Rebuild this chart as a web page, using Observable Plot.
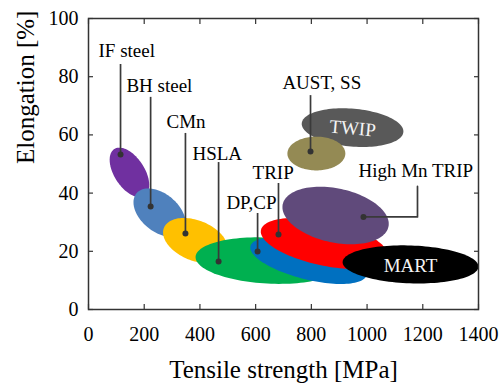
<!DOCTYPE html>
<html><head><meta charset="utf-8">
<script src="https://cdn.jsdelivr.net/npm/d3@7"></script>
<script src="https://cdn.jsdelivr.net/npm/@observablehq/plot@0.6"></script>
<style>body{margin:0;background:#fff} svg text{font-family:"Liberation Serif",serif !important;}</style>
</head><body><div id="chart"></div>
<script>
// Axis ticks
const xTicks = [0, 200, 400, 600, 800, 1000, 1200, 1400];
const yTicks = [0, 20, 40, 60, 80, 100];

// Ellipse regions (drawing order), centre in MPa / %, semi-axes in MPa / %, tilt in degrees
const ellName  = ["IF steel", "BH steel", "CMn", "HSLA", "DP,CP", "TRIP", "High Mn TRIP", "MART", "TWIP", "AUST, SS"];
const ellX     = [147, 255, 384, 646, 790, 847, 887, 1156, 948, 818];
const ellY     = [47.1, 33.3, 23.7, 16.8, 16.8, 22.7, 32.3, 15.5, 62.5, 53.6];
const ellRx    = [100, 108, 122, 262, 215, 233, 194, 244, 183, 104];
const ellRy    = [5.2, 6.5, 6.9, 7.9, 6.5, 7.6, 9.3, 6.5, 6.5, 5.8];
const ellTilt  = [57, 40, 22, 3, 14, 12, 12, 2, 5, 0];
const ellColor = ["#7030A0", "#4F81BD", "#FFC000", "#00B050", "#0070C0", "#FF0000", "#604A7B", "#000000", "#595959", "#948A54"];

// Callout labels
const labName = ["IF steel", "BH steel", "CMn", "HSLA", "DP,CP", "TRIP", "AUST, SS", "High Mn TRIP"];
const labX    = [36, 136, 280, 373, 495, 589, 696, 969];
const labY    = [86.9, 74.6, 62.5, 51.5, 34.7, 45.0, 75.9, 45.4];
const dotX    = [115, 223, 348, 467, 607, 682, 797, 987];
const dotY    = [53.3, 35.4, 26.1, 16.5, 19.9, 25.8, 54.3, 31.8];
const lineTop = [84.2, 72.9, 60.5, 50.5, 33.0, 43.3, 73.5, 42.3];
const elbowX  = 1181; // High Mn TRIP leader elbow

// Labels inside ellipses
const inName = ["MART", "TWIP"];
const inX = [1156, 948];
const inY = [15.1, 62.2];
const inRot = [0, 5];

const FONT = "Liberation Serif";
const W = 500, H = 385, mL = 88, mR = 22, mT = 18, mB = 76;
const kx = (W - mL - mR) / (xTicks[xTicks.length - 1] - xTicks[0]);
const ky = (H - mT - mB) / (yTicks[yTicks.length - 1] - yTicks[0]);

function ellipsePts(i) {
  const a = ellRx[i] * kx, b = ellRy[i] * ky, th = ellTilt[i] * Math.PI / 180;
  const out = [];
  const N = 120;
  for (let j = 0; j < N; j++) {
    const t = 2 * Math.PI * j / N;
    const px = a * Math.cos(t), py = b * Math.sin(t);
    const X = px * Math.cos(th) - py * Math.sin(th);
    const Y = px * Math.sin(th) + py * Math.cos(th);
    out.push({x: ellX[i] + X / kx, y: ellY[i] - Y / ky});
  }
  return out;
}

const idx = labName.map((d, i) => i);
const vIdx = idx.filter(i => labName[i] !== "High Mn TRIP");
const hm = labName.indexOf("High Mn TRIP");
const hmPath = [
  {x: dotX[hm], y: dotY[hm]},
  {x: elbowX, y: dotY[hm]},
  {x: elbowX, y: lineTop[hm]}
];

const axisStroke = "#333";

const chart = Plot.plot({
  width: W, height: H,
  marginLeft: mL, marginRight: mR, marginTop: mT, marginBottom: mB,
  style: {fontFamily: FONT, background: "#fff", color: "#000"},
  x: {domain: [0, 1400]},
  y: {domain: [0, 100]},
  marks: [
    ...ellName.map((n, i) => Plot.line(ellipsePts(i), {x: "x", y: "y", fill: ellColor[i], stroke: "none", curve: "linear-closed"})),
    Plot.ruleX(vIdx, {x: i => dotX[i], y1: i => dotY[i], y2: i => lineTop[i], stroke: "#3a3a3a", strokeWidth: 1.7}),
    Plot.line(hmPath, {x: "x", y: "y", stroke: "#3a3a3a", strokeWidth: 1.7}),
    Plot.dot(idx, {x: i => dotX[i], y: i => dotY[i], r: 3, fill: "#333", stroke: "none"}),
    Plot.text(idx, {x: i => labX[i], y: i => labY[i], text: i => labName[i], textAnchor: "start", lineAnchor: "bottom", fontSize: 19, fontFamily: FONT, fill: "#000"}),
    Plot.text(inName.map((d, i) => i), {x: i => inX[i], y: i => inY[i], text: i => inName[i], rotate: i => inRot[i], fontSize: 19, fontFamily: FONT, fill: "#f4f4f4", lineAnchor: "middle"}),
    Plot.frame({stroke: axisStroke, strokeWidth: 1.5}),
    Plot.axisX({ticks: xTicks, tickSize: -5, tickPadding: 22, tickFormat: d => String(d), fontSize: 20, fontFamily: FONT, stroke: axisStroke, strokeWidth: 1.2, fill: "#000", label: null}),
    Plot.axisX({ticks: xTicks, anchor: "top", tickSize: -5, tickFormat: () => "", stroke: axisStroke, strokeWidth: 1.2, label: null}),
    Plot.axisY({ticks: yTicks, tickSize: -5, tickPadding: 15, tickFormat: d => String(d), fontSize: 20, fontFamily: FONT, stroke: axisStroke, strokeWidth: 1.2, fill: "#000", label: null}),
    Plot.axisY({ticks: yTicks, anchor: "right", tickSize: -5, tickFormat: () => "", stroke: axisStroke, strokeWidth: 1.2, label: null}),
    Plot.text(["Tensile strength [MPa]"], {frameAnchor: "bottom", dy: 68, lineAnchor: "bottom", fontSize: 25, fontFamily: FONT, fill: "#000"}),
    Plot.text(["Elongation [%]"], {frameAnchor: "left", dx: -55, rotate: -90, lineAnchor: "bottom", fontSize: 25, fontFamily: FONT, fill: "#000"})
  ]
});
document.getElementById("chart").appendChild(chart);
</script>
</body></html>
